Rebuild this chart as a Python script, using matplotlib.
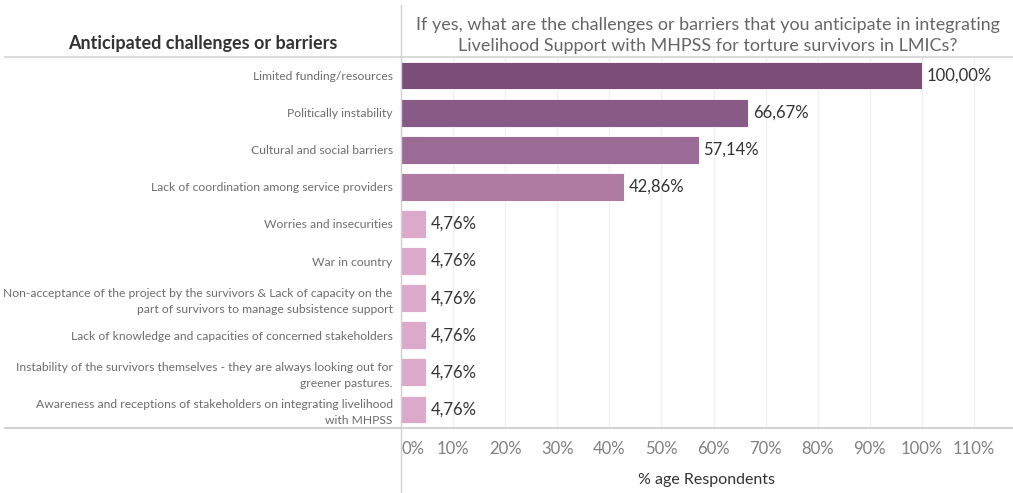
import matplotlib.pyplot as plt
from matplotlib.lines import Line2D

challenges = [
    "Limited funding/resources",
    "Politically instability",
    "Cultural and social barriers",
    "Lack of coordination among service providers",
    "Worries and insecurities",
    "War in country",
    "Non-acceptance of the project by the survivors & Lack of capacity on the\npart of survivors to manage subsistence support",
    "Lack of knowledge and capacities of concerned stakeholders",
    "Instability of the survivors themselves - they are always looking out for\ngreener pastures.",
    "Awareness and receptions of stakeholders on integrating livelihood\nwith MHPSS",
]
pct_respondents = [100.00, 66.67, 57.14, 42.86, 4.76, 4.76, 4.76, 4.76, 4.76, 4.76]
bar_colors = ["#7b4e78", "#875b86", "#9b6b96", "#b07ba2",
              "#dca9cb", "#dca9cb", "#dca9cb", "#dca9cb", "#dca9cb", "#dca9cb"]
x_ticks = [0, 10, 20, 30, 40, 50, 60, 70, 80, 90, 100, 110]

plt.rcParams['font.family'] = ['Lato', 'DejaVu Sans']

W, H = 1013, 493
fig = plt.figure(figsize=(W / 100, H / 100), dpi=100)
ax = fig.add_axes([401 / W, 1 - 428 / H, 1 - 401 / W, (428 - 57) / H])

ypos = list(range(len(challenges)))
ax.barh(ypos, pct_respondents, height=0.75, color=bar_colors,
        edgecolor="#ffffff", linewidth=0.6, zorder=2)
for y, v in zip(ypos, pct_respondents):
    ax.text(v + 0.9, y, f"{v:.2f}".replace(".", ",") + "%", va="center", ha="left",
            fontsize=12, color="#333333", zorder=3)

ax.set_ylim(len(challenges) - 0.5, -0.5)
ax.set_xlim(0, 117.5)
ax.set_yticks(ypos)
ax.set_yticklabels(challenges, fontsize=8.7, color="#6d6d6d", linespacing=1.5)
ax.tick_params(axis="y", length=0, pad=6)
ax.set_xticks(x_ticks)
ax.set_xticklabels([f"{t}%" for t in x_ticks], fontsize=12, color="#808080")
ax.get_xticklabels()[0].set_horizontalalignment("left")
ax.tick_params(axis="x", length=0, pad=9)
ax.grid(axis="x", color="#efefef", linewidth=0.9, zorder=0)
for s in ax.spines.values():
    s.set_visible(False)
ax.set_xlabel("% age Respondents", fontsize=11.5, color="#333333", labelpad=12)

# header and frame lines
fig.add_artist(Line2D([5 / W, 1], [1 - 57 / H] * 2, color="#d4d4d4", lw=1.2))
fig.add_artist(Line2D([5 / W, 1], [1 - 428 / H] * 2, color="#c8c8c8", lw=1.2))
fig.add_artist(Line2D([401 / W] * 2, [0, 1 - 5 / H], color="#d0d0d0", lw=1.0))

fig.text(203 / W, 1 - 44 / H, "Anticipated challenges or barriers", ha="center", va="center",
         fontsize=13, fontweight="bold", color="#333333")
fig.text(708 / W, 1 - 35.5 / H,
         "If yes, what are the challenges or barriers that you anticipate in integrating\n"
         "Livelihood Support with MHPSS for torture survivors in LMICs?",
         ha="center", va="center", fontsize=12.9, color="#666666", linespacing=1.35)

fig.savefig("out.png", dpi=100)
